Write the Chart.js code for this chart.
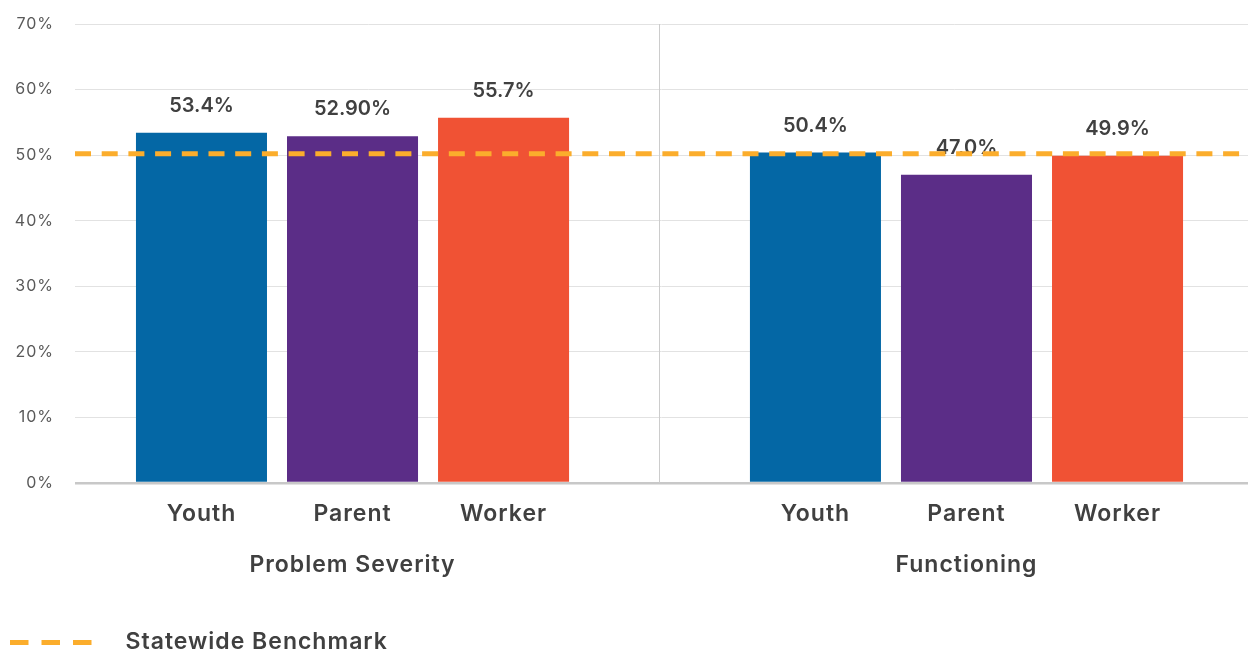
<!DOCTYPE html>
<html>
<head>
<meta charset="utf-8">
<script src="https://cdn.jsdelivr.net/npm/chart.js@4.4.1/dist/chart.umd.min.js"></script>
<style>
  html, body { margin: 0; padding: 0; background: #ffffff; }
  #c { display: block; }
</style>
</head>
<body>
<canvas id="c" width="1248" height="652"></canvas>
<script>
// Outcome groups and the three rater types shown in each group
const groups = ['Problem Severity', 'Functioning'];
const raters = ['Youth', 'Parent', 'Worker'];

// Percent of cases improved, one value per group
const youth = [53.4, 50.4];
const parent = [52.9, 47.0];
const worker = [55.7, 49.9];

// Decimal places used when printing each value above its bar
const youthDecimals = [1, 1];
const parentDecimals = [2, 1];
const workerDecimals = [1, 1];

// Statewide benchmark (percent)
const benchmark = 50.2;
const benchmarkLabel = 'Statewide Benchmark';

// Y axis tick values (percent)
const yTicks = [0, 10, 20, 30, 40, 50, 60, 70];

const series = [youth, parent, worker];
const decimals = [youthDecimals, parentDecimals, workerDecimals];
const barColors = ['#0467A5', '#5B2D87', '#F05234'];
const benchColor = '#FBAD2C';
const textDark = '#404040';
const tickGrey = '#595959';
const FONT = 'Inter, "Open Sans", "Noto Sans", sans-serif';

// Group axis runs slightly wider than the two groups so the plot fills the canvas
const xMin = -0.452;
const xMax = 1.4585;
const categoryPct = 0.738;
const barPct = 0.8675;

// Centre of each rater bar within its group, following Chart.js grouped-bar layout
const raterPositions = [];
groups.forEach((g, i) => {
  raters.forEach((r, k) => {
    raterPositions.push({ value: i + (k - (raters.length - 1) / 2) * categoryPct / raters.length, label: r });
  });
  if (i < groups.length - 1) raterPositions.push({ value: i + 0.5, label: '', divider: true });
});

Chart.defaults.font.family = FONT;

// Slightly open letter spacing for the axis and legend text
const wideText = {
  id: 'wideText',
  beforeDraw(chart) { chart.ctx.letterSpacing = '1px'; }
};

// Value labels above the bars, drawn before the benchmark line so the line stays on top
const valueLabels = {
  id: 'valueLabels',
  afterDatasetDraw(chart, args) {
    const ds = chart.data.datasets[args.index];
    if (ds.type === 'line') return;
    const k = args.index;
    const ctx = chart.ctx;
    ctx.save();
    ctx.letterSpacing = '0px';
    ctx.font = '600 20px ' + FONT;
    ctx.fillStyle = textDark;
    ctx.textAlign = 'center';
    ctx.textBaseline = 'middle';
    args.meta.data.forEach((bar, i) => {
      const v = series[k][i];
      ctx.fillText(v.toFixed(decimals[k][i]) + '%', bar.x, bar.y - 27);
    });
    ctx.restore();
  }
};

const datasets = raters.map((r, k) => ({
  type: 'bar',
  label: r,
  data: groups.map((g, i) => ({ x: i, y: series[k][i] })),
  backgroundColor: barColors[k],
  borderWidth: 0,
  categoryPercentage: categoryPct,
  barPercentage: barPct,
  xAxisID: 'x',
  yAxisID: 'y',
  order: 1
}));

datasets.push({
  type: 'line',
  label: benchmarkLabel,
  data: [{ x: xMin, y: benchmark }, { x: xMax, y: benchmark }],
  borderColor: benchColor,
  backgroundColor: benchColor,
  borderWidth: 5,
  borderDash: [16, 10.7],
  pointRadius: 0,
  fill: false,
  xAxisID: 'x',
  yAxisID: 'y',
  order: 0
});

new Chart(document.getElementById('c'), {
  type: 'bar',
  data: { datasets },
  plugins: [wideText, valueLabels],
  options: {
    responsive: false,
    animation: false,
    layout: { padding: { top: 24, left: 0, right: 0, bottom: -12 } },
    plugins: {
      tooltip: { enabled: false },
      legend: {
        position: 'bottom',
        align: 'start',
        labels: {
          usePointStyle: true,
          pointStyleWidth: 104,
          padding: 10,
          font: { size: 23, weight: '600' },
          color: textDark,
          generateLabels: () => [{
            text: benchmarkLabel,
            pointStyle: 'line',
            strokeStyle: benchColor,
            fillStyle: benchColor,
            fontColor: textDark,
            lineWidth: 5,
            lineDash: [18.5, 13, 18.5, 13, 18.5, 22.5],
            lineCap: 'butt',
            hidden: false,
            datasetIndex: raters.length
          }]
        }
      }
    },
    scales: {
      y: {
        type: 'linear',
        position: 'left',
        min: yTicks[0],
        max: yTicks[yTicks.length - 1],
        afterBuildTicks: (s) => { s.ticks = yTicks.map(v => ({ value: v })); },
        afterFit: (s) => { s.width = 75; s.paddingTop = 10; s.paddingBottom = 10; },
        border: { display: false },
        grid: {
          drawTicks: false,
          color: (c) => c.tick && c.tick.value === 0 ? '#c8c8c8' : '#e2e2e2',
          lineWidth: (c) => c.tick && c.tick.value === 0 ? 2.5 : 1
        },
        ticks: {
          padding: 21,
          color: tickGrey,
          font: { size: 16 },
          callback: (v) => v + '%'
        }
      },
      xs: {
        type: 'linear',
        position: 'bottom',
        weight: 0,
        min: xMin,
        max: xMax,
        offset: false,
        afterBuildTicks: (s) => { s.ticks = raterPositions.map(p => ({ value: p.value })); },
        afterFit: (s) => { s.height = 45; },
        border: { display: false },
        grid: {
          offset: false,
          drawTicks: false,
          color: (c) => raterPositions[c.index] && raterPositions[c.index].divider ? '#cccccc' : 'rgba(0,0,0,0)',
          lineWidth: 1
        },
        ticks: {
          autoSkip: false,
          maxRotation: 0,
          minRotation: 0,
          padding: 17,
          color: textDark,
          font: { size: 23, weight: '600' },
          callback: (v, i) => raterPositions[i] ? raterPositions[i].label : ''
        }
      },
      x: {
        type: 'linear',
        position: 'bottom',
        weight: 1,
        min: xMin,
        max: xMax,
        offset: false,
        afterBuildTicks: (s) => { s.ticks = groups.map((g, i) => ({ value: i })); },
        afterFit: (s) => { s.height = 93; },
        border: { display: false },
        grid: { display: false, offset: false, drawTicks: false },
        ticks: {
          autoSkip: false,
          maxRotation: 0,
          minRotation: 0,
          padding: 23,
          color: textDark,
          font: { size: 23, weight: '600' },
          callback: (v, i) => groups[i]
        }
      }
    }
  }
});
</script>
</body>
</html>
